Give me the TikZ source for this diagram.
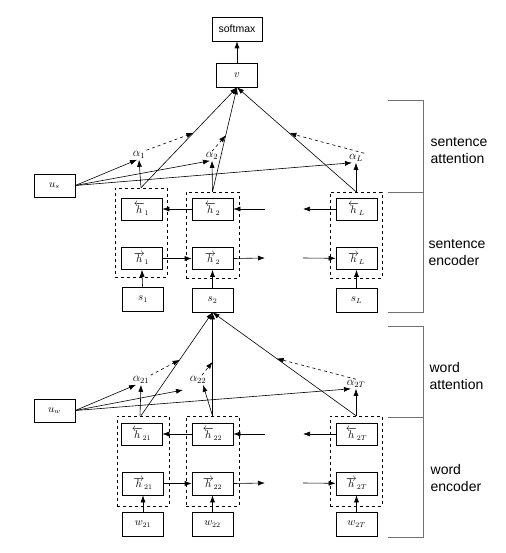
\documentclass[tikz,border=0pt]{standalone}
\usepackage{fontspec}
\newfontfamily\labelfont{Liberation Sans}
\usetikzlibrary{arrows.meta}
\begin{document}
\begin{tikzpicture}[x=1pt,y=-1pt,line width=0.6pt,>={Latex[length=7pt,width=5pt]},
  box/.style={draw,minimum width=41pt,minimum height=23pt,inner sep=0pt,font=\fontsize{10.5}{12}\selectfont},
  col/.style={draw,dashed,minimum width=52pt,minimum height=87pt,inner sep=0pt},
  att/.style={inner sep=1pt,font=\fontsize{12}{14}\selectfont},
  side/.style={anchor=west,align=left,font=\labelfont\fontsize{14}{17}\selectfont},
  bracket/.style={draw=black!55,line width=0.8pt}]
\useasboundingbox (0,0) rectangle (505,553);
% ---------- sentence level ----------
\node[box,minimum width=50pt,minimum height=24pt] (softmax) at (237,29) {\labelfont softmax};
\node[box,minimum height=24pt] (v) at (237,75) {$v$};
\node[box] (us) at (54.5,185.5) {$u_s$};
\node[col,minimum height=89pt] (c1) at (141,232.5) {};
\node[col,minimum width=53pt,minimum height=86pt] (c2) at (212.5,235) {};
\node[col,minimum height=86pt] (cL) at (356,235) {};
\node[box,minimum height=22pt] (hb1) at (141.5,209) {$\overleftarrow{h}_1$};
\node[box,minimum height=22pt] (hf1) at (141.5,258.5) {$\overrightarrow{h}_1$};
\node[box,minimum height=22pt] (hb2) at (212.5,209) {$\overleftarrow{h}_2$};
\node[box,minimum height=22pt] (hf2) at (212.5,258.5) {$\overrightarrow{h}_2$};
\node[box,minimum height=22pt] (hbL) at (356.5,209) {$\overleftarrow{h}_L$};
\node[box,minimum height=22pt] (hfL) at (356.5,258.5) {$\overrightarrow{h}_L$};
\node[box,minimum height=24pt] (s1) at (143,299) {$s_1$};
\node[box,minimum height=24pt] (s2) at (212.5,300) {$s_2$};
\node[box,minimum height=24pt] (sL) at (356.5,300) {$s_L$};
\node[att] (a1) at (139,155) {$\alpha_1$};
\node[att] (a2) at (212,156) {$\alpha_2$};
\node[att] (aL) at (356,158) {$\alpha_L$};
\coordinate (bl) at (265,209); \coordinate (br) at (303,209);
\coordinate (fl) at (265,258); \coordinate (fr) at (303,258);
\draw[->] (v) -- (softmax);
\draw[->] (s1) -- (hf1); \draw[->] (s2) -- (hf2); \draw[->] (sL) -- (hfL);
\draw[->] (hb2) -- (hb1); \draw[->] (bl) -- (hb2.east); \draw[->] (hbL) -- (br);
\draw[->] (hf1) -- (hf2); \draw[->] (hf2.east) -- (fl); \draw[->] (fr) -- (hfL);
\draw[->] (c1.north) -- (a1.south);
\draw[->] (c2.north) -- (a2.south);
\draw[->] (cL.north) -- (aL.south);
\draw[->] (us.east) -- ([xshift=-2pt]a1.south);
\draw[->] (us.east) -- ([xshift=-2pt]a2.south);
\draw[->] (us.east) -- ([xshift=-4pt]aL.south);
\draw[->] (c1.north) -- coordinate[pos=0.545] (m1) (v.south);
\draw[->] (c2.north) -- coordinate[pos=0.54] (m2) (v.south);
\draw[->] (cL.north) -- coordinate[pos=0.56] (mL) (v.south);
\draw[->,dashed] (a1.north east) -- (m1);
\draw[->,dashed] (a2.north) -- (m2);
\draw[->,dashed] (aL.north east) -- (mL);
\draw[bracket] (388,100) -- (423,100) -- (423,312) -- (388,312);
\draw[bracket] (388,192) -- (423,192);
\node[side] (satt) at (427,150.5) {sentence\\attention};
\node[side] (senc) at (425,252.5) {sentence\\encoder};
% ---------- word level ----------
\begin{scope}[shift={(0,225)}]
  \node[box] (uw) at (54.5,185.5) {$u_w$};
  \node[col,minimum height=90pt] (cw1) at (143,236) {};
  \node[col,minimum width=53pt,minimum height=90pt] (cw2) at (212.5,236) {};
  \node[col,minimum height=90pt] (cwT) at (356,236) {};
  \node[box,minimum height=22pt] (hbw1) at (141.5,209) {$\overleftarrow{h}_{21}$};
  \node[box,minimum height=23pt] (hfw1) at (143,258.5) {$\overrightarrow{h}_{21}$};
  \node[box,minimum height=22pt] (hbw2) at (212.5,209) {$\overleftarrow{h}_{22}$};
  \node[box,minimum height=23pt] (hfw2) at (212.5,258.5) {$\overrightarrow{h}_{22}$};
  \node[box,minimum height=22pt] (hbwT) at (356.5,209) {$\overleftarrow{h}_{2T}$};
  \node[box,minimum height=23pt] (hfwT) at (356.5,258.5) {$\overrightarrow{h}_{2T}$};
  \node[box,minimum height=24pt] (w1) at (143,299) {$w_{21}$};
  \node[box,minimum height=24pt] (w2) at (212.5,299) {$w_{22}$};
  \node[box,minimum height=24pt] (wT) at (356.5,299) {$w_{2T}$};
  \node[att] (aw1) at (141,155) {$\alpha_{21}$};
  \node[att] (aw2) at (198,155) {$\alpha_{22}$};
  \node[att] (awT) at (356,159) {$\alpha_{2T}$};
  \coordinate (bwl) at (265,209); \coordinate (bwr) at (303,209);
  \coordinate (fwl) at (265,258); \coordinate (fwr) at (303,258);
  \coordinate (uwx) at (183,165);
  \draw[->] (w1) -- (hfw1); \draw[->] (w2) -- (hfw2); \draw[->] (wT) -- (hfwT);
  \draw[->] (hbw2) -- (hbw1); \draw[->] (bwl) -- (hbw2.east); \draw[->] (hbwT) -- (bwr);
  \draw[->] (hfw1) -- (hfw2); \draw[->] (hfw2.east) -- (fwl); \draw[->] (fwr) -- (hfwT);
  \draw[->] ([xshift=-3pt]cw1.north) -- (aw1.south);
  \draw[->] (cw2.north) -- ([xshift=5pt]aw2.south);
  \draw[->] (cwT.north) -- (awT.south);
  \draw[->] (uw.east) -- ([xshift=-5pt]aw1.south);
  \draw[->] (uw.east) -- (uwx);
  \draw[->] (uw.east) -- ([xshift=-5pt]awT.south);
  \draw[->] ([xshift=-2pt]cw1.north) -- coordinate[pos=0.54] (mw1) (s2.south);
  \draw[->] (cw2.north) -- coordinate[pos=0.52] (mw2) (s2.south);
  \draw[->] (cwT.north) -- coordinate[pos=0.553] (mwT) (s2.south);
  \draw[->,dashed] (aw1.north east) -- (mw1);
  \draw[->,dashed] ([xshift=4pt]aw2.north) -- (mw2);
  \draw[->,dashed] (awT.north) -- (mwT);
  \draw[bracket] (388,101) -- (423,101) -- (423,312) -- (388,312);
  \draw[bracket] (388,192) -- (423,192);
  \node[side] (watt) at (426,150.5) {word\\attention};
  \node[side] (wenc) at (427,252.5) {word\\encoder};
\end{scope}
\end{tikzpicture}
\end{document}
